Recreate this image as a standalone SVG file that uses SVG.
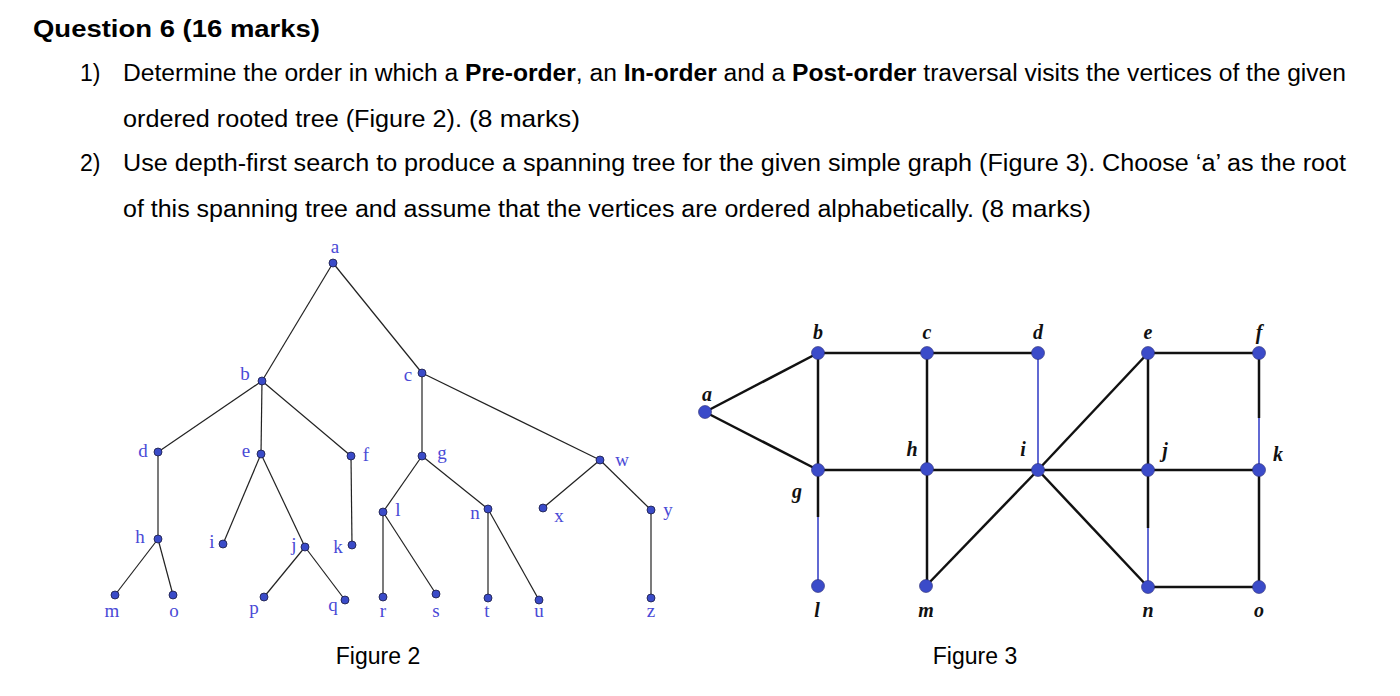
<svg xmlns="http://www.w3.org/2000/svg" width="1400" height="696" viewBox="0 0 1400 696">
<style>
.t{font-family:"Liberation Sans",Arial,sans-serif;font-size:23px;fill:#000}
.b{font-weight:bold}
.e2{stroke:#222;stroke-width:1.2;fill:none}
.n2{fill:#3a4bc8;stroke:#1a1a40;stroke-width:0.8}
.l2{font-family:"Liberation Serif","Times New Roman",serif;font-size:19px;fill:#4a4ad6}
.e3{stroke:#111;stroke-width:2.5;fill:none}
.e3b{stroke:#3a44c8;stroke-width:1.6;fill:none}
.n3{fill:#3b4bc9;stroke:#2a2a70;stroke-width:0.6}
.l3{font-family:"Liberation Serif","Times New Roman",serif;font-size:20px;font-style:italic;font-weight:bold;fill:#111}
</style>
<rect width="1400" height="696" fill="#fff"/>
<g id="text">
<text class="t b" x="33" y="37" font-size="24" textLength="287" lengthAdjust="spacingAndGlyphs">Question 6 (16 marks)</text>
<text class="t" x="80" y="81">1)</text>
<text class="t" x="123" y="81" textLength="1223" lengthAdjust="spacingAndGlyphs">Determine the order in which a <tspan class="b">Pre-order</tspan>, an <tspan class="b">In-order</tspan> and a <tspan class="b">Post-order</tspan> traversal visits the vertices of the given</text>
<text class="t" x="123" y="127" textLength="457" lengthAdjust="spacingAndGlyphs">ordered rooted tree (Figure 2). <tspan font-size="24">(8 marks)</tspan></text>
<text class="t" x="80" y="171">2)</text>
<text class="t" x="123" y="171" textLength="1223" lengthAdjust="spacingAndGlyphs">Use depth-first search to produce a spanning tree for the given simple graph (Figure 3). Choose ‘a’ as the root</text>
<text class="t" x="123" y="217" textLength="968" lengthAdjust="spacingAndGlyphs">of this spanning tree and assume that the vertices are ordered alphabetically. <tspan font-size="24">(8 marks)</tspan></text>
<text class="t" x="378" y="664" text-anchor="middle">Figure 2</text>
<text class="t" x="975" y="664" text-anchor="middle">Figure 3</text>
</g>
<g id="fig2-edges">
<line class="e2" x1="333" y1="263" x2="262" y2="381"/>
<line class="e2" x1="333" y1="263" x2="422" y2="373"/>
<line class="e2" x1="262" y1="381" x2="158" y2="452"/>
<line class="e2" x1="262" y1="381" x2="261" y2="454"/>
<line class="e2" x1="262" y1="381" x2="351" y2="456"/>
<line class="e2" x1="422" y1="373" x2="422" y2="456"/>
<line class="e2" x1="422" y1="373" x2="600" y2="460"/>
<line class="e2" x1="158" y1="452" x2="158" y2="539"/>
<line class="e2" x1="158" y1="539" x2="115" y2="595"/>
<line class="e2" x1="158" y1="539" x2="173" y2="595"/>
<line class="e2" x1="261" y1="454" x2="223" y2="544"/>
<line class="e2" x1="261" y1="454" x2="305" y2="547"/>
<line class="e2" x1="305" y1="547" x2="264" y2="597"/>
<line class="e2" x1="305" y1="547" x2="345" y2="600"/>
<line class="e2" x1="351" y1="456" x2="352" y2="545"/>
<line class="e2" x1="422" y1="456" x2="383" y2="512"/>
<line class="e2" x1="422" y1="456" x2="488" y2="509"/>
<line class="e2" x1="383" y1="512" x2="383" y2="597"/>
<line class="e2" x1="383" y1="512" x2="436" y2="594"/>
<line class="e2" x1="488" y1="509" x2="488" y2="598"/>
<line class="e2" x1="488" y1="509" x2="539" y2="600"/>
<line class="e2" x1="600" y1="460" x2="543" y2="508"/>
<line class="e2" x1="600" y1="460" x2="651" y2="510"/>
<line class="e2" x1="651" y1="510" x2="651" y2="598"/>
</g>
<g id="fig2-nodes">
<g id="t-a"><circle class="n2" cx="333" cy="263" r="4"/><text class="l2" x="335" y="253" text-anchor="middle">a</text></g>
<g id="t-b"><circle class="n2" cx="262" cy="381" r="4"/><text class="l2" x="245" y="380" text-anchor="middle">b</text></g>
<g id="t-c"><circle class="n2" cx="422" cy="373" r="4"/><text class="l2" x="408" y="381" text-anchor="middle">c</text></g>
<g id="t-d"><circle class="n2" cx="158" cy="452" r="4"/><text class="l2" x="143" y="457" text-anchor="middle">d</text></g>
<g id="t-e"><circle class="n2" cx="261" cy="454" r="4"/><text class="l2" x="246" y="457" text-anchor="middle">e</text></g>
<g id="t-f"><circle class="n2" cx="351" cy="456" r="4"/><text class="l2" x="366" y="461" text-anchor="middle">f</text></g>
<g id="t-g"><circle class="n2" cx="422" cy="456" r="4"/><text class="l2" x="442" y="459" text-anchor="middle">g</text></g>
<g id="t-w"><circle class="n2" cx="600" cy="460" r="4"/><text class="l2" x="622" y="466" text-anchor="middle">w</text></g>
<g id="t-h"><circle class="n2" cx="158" cy="539" r="4"/><text class="l2" x="140" y="543" text-anchor="middle">h</text></g>
<g id="t-i"><circle class="n2" cx="223" cy="544" r="4"/><text class="l2" x="212" y="548" text-anchor="middle">i</text></g>
<g id="t-j"><circle class="n2" cx="305" cy="547" r="4"/><text class="l2" x="294" y="551" text-anchor="middle">j</text></g>
<g id="t-k"><circle class="n2" cx="352" cy="545" r="4"/><text class="l2" x="338" y="553" text-anchor="middle">k</text></g>
<g id="t-l"><circle class="n2" cx="383" cy="512" r="4"/><text class="l2" x="398" y="516" text-anchor="middle">l</text></g>
<g id="t-n"><circle class="n2" cx="488" cy="509" r="4"/><text class="l2" x="475" y="519" text-anchor="middle">n</text></g>
<g id="t-x"><circle class="n2" cx="543" cy="508" r="4"/><text class="l2" x="559" y="522" text-anchor="middle">x</text></g>
<g id="t-y"><circle class="n2" cx="651" cy="510" r="4"/><text class="l2" x="668" y="516" text-anchor="middle">y</text></g>
<g id="t-m"><circle class="n2" cx="115" cy="595" r="4"/><text class="l2" x="112" y="617" text-anchor="middle">m</text></g>
<g id="t-o"><circle class="n2" cx="173" cy="595" r="4"/><text class="l2" x="174" y="617" text-anchor="middle">o</text></g>
<g id="t-p"><circle class="n2" cx="264" cy="597" r="4"/><text class="l2" x="254" y="614" text-anchor="middle">p</text></g>
<g id="t-q"><circle class="n2" cx="345" cy="600" r="4"/><text class="l2" x="333" y="611" text-anchor="middle">q</text></g>
<g id="t-r"><circle class="n2" cx="383" cy="597" r="4"/><text class="l2" x="383" y="617" text-anchor="middle">r</text></g>
<g id="t-s"><circle class="n2" cx="436" cy="594" r="4"/><text class="l2" x="436" y="617" text-anchor="middle">s</text></g>
<g id="t-t"><circle class="n2" cx="488" cy="598" r="4"/><text class="l2" x="487" y="617" text-anchor="middle">t</text></g>
<g id="t-u"><circle class="n2" cx="539" cy="600" r="4"/><text class="l2" x="539" y="617" text-anchor="middle">u</text></g>
<g id="t-z"><circle class="n2" cx="651" cy="598" r="4"/><text class="l2" x="651" y="617" text-anchor="middle">z</text></g>
</g>
<g id="fig3-edges">
<line class="e3" x1="705" y1="412" x2="818" y2="353"/>
<line class="e3" x1="705" y1="412" x2="818" y2="470"/>
<line class="e3" x1="818" y1="353" x2="1038" y2="353"/>
<line class="e3" x1="1148" y1="353" x2="1259" y2="353"/>
<line class="e3" x1="818" y1="353" x2="818" y2="470"/>
<line class="e3" x1="927" y1="353" x2="927" y2="586"/>
<line class="e3b" x1="1038" y1="353" x2="1038" y2="470"/>
<line class="e3" x1="818" y1="470" x2="1259" y2="470"/>
<line class="e3" x1="818" y1="470" x2="818" y2="517"/>
<line class="e3b" x1="818" y1="517" x2="818" y2="586"/>
<line class="e3" x1="926" y1="586" x2="1038" y2="470"/>
<line class="e3" x1="1038" y1="470" x2="1148" y2="353"/>
<line class="e3" x1="1038" y1="470" x2="1148" y2="587"/>
<line class="e3" x1="1148" y1="353" x2="1148" y2="528"/>
<line class="e3b" x1="1148" y1="528" x2="1148" y2="587"/>
<line class="e3" x1="1259" y1="353" x2="1259" y2="418"/>
<line class="e3b" x1="1259" y1="418" x2="1259" y2="470"/>
<line class="e3" x1="1259" y1="470" x2="1259" y2="587"/>
<line class="e3" x1="1148" y1="587" x2="1259" y2="587"/>
</g>
<g id="fig3-nodes">
<g id="g-a"><circle class="n3" cx="705" cy="412" r="6.5"/><text class="l3" x="707" y="401" text-anchor="middle">a</text></g>
<g id="g-b"><circle class="n3" cx="818" cy="353" r="6.5"/><text class="l3" x="818" y="339" text-anchor="middle">b</text></g>
<g id="g-c"><circle class="n3" cx="927" cy="353" r="6.5"/><text class="l3" x="927" y="339" text-anchor="middle">c</text></g>
<g id="g-d"><circle class="n3" cx="1038" cy="353" r="6.5"/><text class="l3" x="1038" y="339" text-anchor="middle">d</text></g>
<g id="g-e"><circle class="n3" cx="1148" cy="353" r="6.5"/><text class="l3" x="1148" y="339" text-anchor="middle">e</text></g>
<g id="g-f"><circle class="n3" cx="1259" cy="353" r="6.5"/><text class="l3" x="1259" y="339" text-anchor="middle">f</text></g>
<g id="g-g"><circle class="n3" cx="818" cy="470" r="6.5"/><text class="l3" x="797" y="498" text-anchor="middle">g</text></g>
<g id="g-h"><circle class="n3" cx="927" cy="469" r="6.5"/><text class="l3" x="912" y="456" text-anchor="middle">h</text></g>
<g id="g-i"><circle class="n3" cx="1038" cy="470" r="6.5"/><text class="l3" x="1023" y="456" text-anchor="middle">i</text></g>
<g id="g-j"><circle class="n3" cx="1148" cy="470" r="6.5"/><text class="l3" x="1165" y="457" text-anchor="middle">j</text></g>
<g id="g-k"><circle class="n3" cx="1259" cy="470" r="6.5"/><text class="l3" x="1278" y="461" text-anchor="middle">k</text></g>
<g id="g-l"><circle class="n3" cx="818" cy="586" r="6.5"/><text class="l3" x="817" y="617" text-anchor="middle">l</text></g>
<g id="g-m"><circle class="n3" cx="926" cy="586" r="6.5"/><text class="l3" x="926" y="617" text-anchor="middle">m</text></g>
<g id="g-n"><circle class="n3" cx="1148" cy="587" r="6.5"/><text class="l3" x="1148" y="617" text-anchor="middle">n</text></g>
<g id="g-o"><circle class="n3" cx="1259" cy="587" r="6.5"/><text class="l3" x="1259" y="617" text-anchor="middle">o</text></g>
</g>
</svg>
